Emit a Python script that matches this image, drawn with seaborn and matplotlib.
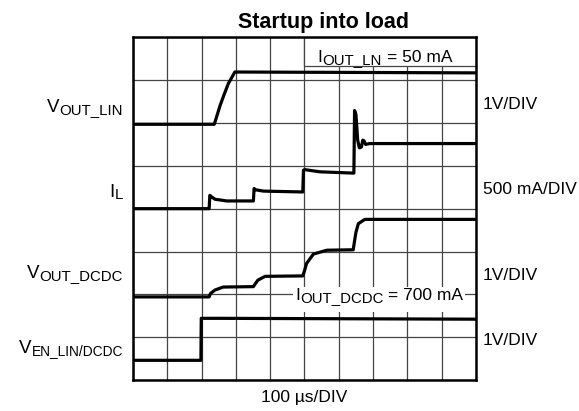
import numpy as np
import pandas as pd
import matplotlib
matplotlib.use('Agg')
import matplotlib.pyplot as plt
import seaborn as sns
from matplotlib.patches import Rectangle
from matplotlib.transforms import ScaledTranslation

# time in divisions (100 us/div), level in divisions
vout_lin_t = [0, 2.37, 2.54, 2.65, 2.78, 2.97, 10]
vout_lin_v = [5.97, 5.97, 6.41, 6.65, 6.92, 7.19, 7.17]

il_t = [0, 2.22, 2.24, 2.30, 2.39, 2.73, 3.51, 3.53, 3.58, 3.80, 4.95, 4.97, 5.02,
        5.45, 6.44, 6.46, 6.50, 6.55, 6.60, 6.66, 6.70, 6.74, 6.78, 6.90, 10]
il_v = [4.0, 4.0, 4.31, 4.27, 4.22, 4.18, 4.18, 4.47, 4.44, 4.41, 4.39, 4.90, 4.91,
        4.86, 4.83, 6.29, 6.20, 5.60, 5.42, 5.44, 5.60, 5.58, 5.50, 5.52, 5.52]

dcdc_t = [0, 2.22, 2.26, 2.39, 2.63, 3.51, 3.56, 3.64, 3.85, 4.95, 5.00, 5.06, 5.26,
          5.65, 6.42, 6.46, 6.50, 6.57, 6.76, 10]
dcdc_v = [1.94, 1.94, 2.02, 2.10, 2.17, 2.18, 2.24, 2.33, 2.42, 2.43, 2.55, 2.72, 2.94,
          3.03, 3.04, 3.25, 3.45, 3.65, 3.75, 3.75]

en_t = [0, 1.98, 1.99, 2.5, 10]
en_v = [0.46, 0.46, 1.44, 1.44, 1.42]

left_main = ['V', 'I', 'V', 'V']
left_sub = ['OUT_LIN', 'L', 'OUT_DCDC', 'EN_LIN/DCDC']
left_y = [6.25, 4.27, 2.37, 0.62]
right_labels = ['1V/DIV', '500 mA/DIV', '1V/DIV', '1V/DIV']
right_y = [6.33, 4.35, 2.33, 0.82]

sns.set_theme(style='white')
plt.rcParams['font.family'] = ['Liberation Sans', 'DejaVu Sans']

fig = plt.figure(figsize=(5.79, 4.11), dpi=100)
ax = fig.add_axes([0.2297, 0.0754, 0.5924, 0.8338])
renderer = fig.canvas.get_renderer()

for t, v in [(vout_lin_t, vout_lin_v), (il_t, il_v), (dcdc_t, dcdc_v), (en_t, en_v)]:
    sns.lineplot(x=t, y=v, ax=ax, color='black', linewidth=2.3,
                 sort=False, estimator=None)

ax.set_xlim(0, 10)
ax.set_ylim(0, 8)
ax.set_xticks(range(11))
ax.set_yticks(range(9))
ax.set_xticklabels([])
ax.set_yticklabels([])
ax.tick_params(length=0)
ax.grid(True, color='#444444', linewidth=0.9)
ax.set_axisbelow(True)
for s in ax.spines.values():
    s.set_color('black')
    s.set_linewidth(1.8)


def text_width(txt, size):
    t = ax.text(0, 0, txt, fontsize=size)
    w = t.get_window_extent(renderer).width / fig.dpi * 72
    t.remove()
    return w


def pieces_text(x, y, pieces, ha='left'):
    # pieces: (text, size, drop in pt, gap before in pt)
    widths = [text_width(p[0], p[1]) + p[3] for p in pieces]
    pos = 0 if ha == 'left' else -sum(widths)
    for (txt, size, drop, gap), w in zip(pieces, widths):
        tr = ax.transData + ScaledTranslation((pos + gap) / 72, -drop / 72,
                                              fig.dpi_scale_trans)
        ax.text(x, y, txt, fontsize=size, ha='left', va='baseline',
                transform=tr, clip_on=False, color='black')
        pos += w


# label box top right
ax.add_patch(Rectangle((5, 7.33), 5, 0.67, facecolor='white',
                       edgecolor='#444444', linewidth=0.9, zorder=1))
pieces_text(5.39, 7.42, [('I', 12.5, 0, 0), ('OUT_LN', 10.8, 1.2, 0),
                         ('= 50 mA', 12.5, 0, 3.5)])

ax.add_patch(Rectangle((4.66, 1.585), 5.02, 0.585, facecolor='white',
                       edgecolor='none', zorder=1))
pieces_text(4.72, 1.86, [('I', 12.5, 0, 0), ('OUT_DCDC', 10.8, 1.2, 0),
                         ('= 700 mA', 12.5, 0, 3.5)])

sub_sizes = [10.8, 10.8, 10.8, 9.9]
for m, sub, y, ss in zip(left_main, left_sub, left_y, sub_sizes):
    pieces_text(-0.29, y, [(m, 13.5, 0, 0), (sub, ss, 1.2, 0.3)], ha='right')
for lab, y in zip(right_labels, right_y):
    ax.text(10.2, y, lab, fontsize=12.5, ha='left', va='baseline',
            color='black', clip_on=False)

ax.text(5.0, -0.40, '100 µs/DIV', fontsize=12.5, ha='center', va='center',
        color='black', clip_on=False)
ax.text(5.55, 8.21, 'Startup into load', fontsize=15.5, fontweight='bold',
        ha='center', va='baseline', color='black', clip_on=False)

fig.savefig('out.png', dpi=100)
